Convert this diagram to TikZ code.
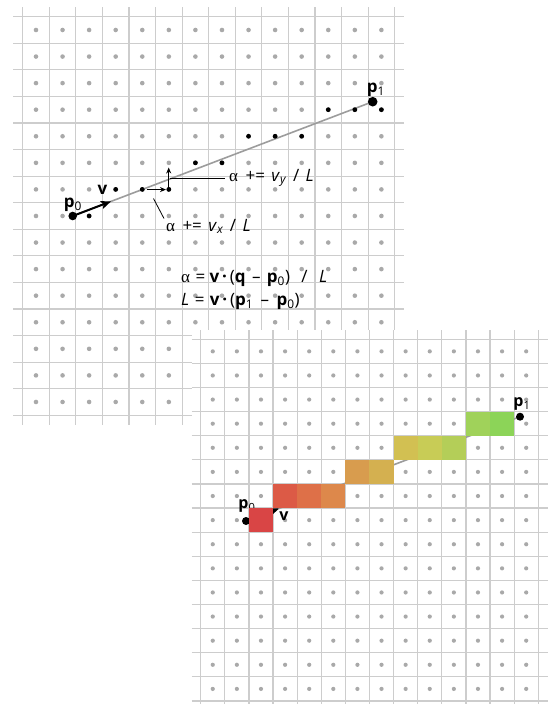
\documentclass[tikz,border=0pt]{standalone}
\usepackage{fontspec}
\setmainfont{Open Sans}
\newfontfamily\greekfont{Liberation Serif}
\usetikzlibrary{arrows.meta}
\definecolor{gridline}{HTML}{CDCDCD}
\definecolor{griddot}{HTML}{A9A9A9}
\definecolor{pathgray}{HTML}{9C9C9C}
\definecolor{cA}{RGB}{217,69,69}
\definecolor{cB}{RGB}{220,90,70}
\definecolor{cC}{RGB}{222,112,72}
\definecolor{cD}{RGB}{221,136,75}
\definecolor{cE}{RGB}{216,156,78}
\definecolor{cF}{RGB}{212,176,80}
\definecolor{cG}{RGB}{210,192,82}
\definecolor{cH}{RGB}{200,204,86}
\definecolor{cI}{RGB}{180,206,88}
\definecolor{cJ}{RGB}{160,210,90}
\definecolor{cK}{RGB}{140,212,88}
\tikzset{
  gridln/.style={draw=gridline, line width=1.2pt},
  gdot/.style={fill=griddot},
  bdot/.style={fill=black},
  lbl/.style={inner sep=0pt, font=\fontsize{15}{17}\selectfont},
  eqn/.style={inner sep=0pt, anchor=west, font=\fontsize{17}{20}\selectfont},
  leader/.style={draw=black, line width=0.8pt},
  smallarrow/.style={draw=black, line width=1pt, -{Stealth[length=6pt,width=5pt]}},
  bigarrow/.style={draw=black, line width=2pt, -{Stealth[length=10pt,width=8pt,inset=2pt]}},
  seg/.style={draw=pathgray, line width=1.6pt}
}
\newcommand{\al}{{\greekfont\char"03B1}}
\newcommand{\gap}[1]{\hspace{#1pt}}
\begin{document}
\begin{tikzpicture}[x=1pt,y=-1pt]
\useasboundingbox (0,0) rectangle (547,704);
% ---------------- top grid ----------------
\def\tx{22.7}\def\ty{16.7}\def\ts{26.57}
\foreach \i in {0,...,14} \draw[gridln] ({\tx+\i*\ts},7) -- ({\tx+\i*\ts},425);
\foreach \j in {0,...,15} \draw[gridln] (13,{\ty+\j*\ts}) -- (404,{\ty+\j*\ts});
\foreach \i in {0,...,13} \foreach \j in {0,...,14}
  \fill[gdot] ({\tx+(\i+0.5)*\ts},{\ty+(\j+0.5)*\ts}) circle (2.3pt);
% path
\coordinate (p0) at (72.7,216);
\coordinate (p1) at (372.7,101.7);
\draw[seg] (p0) -- (p1);
% rasterised dots
\foreach \c/\r in {2/7,3/6,4/6,5/6,6/5,7/5,8/4,9/4,10/4,11/3,12/3,13/3}
  \fill[bdot] ({\tx+(\c+0.5)*\ts},{\ty+(\r+0.5)*\ts}) circle (2.4pt);
\fill[bdot] (p0) circle (4.3pt);
\fill[bdot] (p1) circle (4.8pt);
% v arrow
\coordinate (vtip) at (111,201.4);
\draw[bigarrow] (p0) -- (vtip);
\node[lbl, font=\fontsize{17}{19}\selectfont\bfseries] (vlbl) at (102.5,190) {v};
\node[lbl, font=\fontsize{17}{19}\selectfont] (p0lbl) at (73,205) {\textbf{p}\textsubscript{0}};
\node[lbl, font=\fontsize{17}{19}\selectfont] (p1lbl) at (376,90) {\textbf{p}\textsubscript{1}};
% step arrows
\coordinate (sa) at (146.5,189.6);
\coordinate (sb) at (166,189.6);
\coordinate (sc) at (168.7,189.6);
\coordinate (sd) at (168.7,167.5);
\draw[smallarrow] (sa) -- (sb);
\draw[smallarrow] (sc) -- (sd);
% leaders and labels
\coordinate (ly0) at (170,178.5);
\coordinate (ly1) at (225,178.5);
\draw[leader] (ly0) -- (ly1);
\node[eqn] (lvy) at (229,178) {\al\gap{3} += \gap{2}\textit{v}\textsubscript{\textit{y}} \gap{2}/\gap{2} \textit{L}};
\coordinate (lx0) at (153.5,198.5);
\coordinate (lx1) at (164,218.5);
\draw[leader] (lx0) -- (lx1);
\node[eqn] (lvx) at (166,226.5) {\al\gap{3} += \gap{2}\textit{v}\textsubscript{\textit{x}} \gap{2}/\gap{2} \textit{L}};
% equations
\node[eqn] (eq1) at (181,278.5) {\al\gap{1} = \textbf{v\,·\,}(\textbf{q}\gap{2} – \gap{2}\textbf{p}\textsubscript{0})\gap{7} /\gap{7} \textit{L}};
\node[eqn] (eq2) at (181,301.5) {\textit{L}\gap{1} = \gap{1}\textbf{v\,·\,}(\textbf{p}\textsubscript{1}\gap{3} – \gap{3}\textbf{p}\textsubscript{0})};
% ---------------- bottom panel ----------------
\fill[white] (191.5,330) rectangle (547,704);
\def\bx{200.7}\def\by{339.3}\def\bs{24.11}
\foreach \i in {0,...,14} \draw[gridln] ({\bx+\i*\bs},330) -- ({\bx+\i*\bs},712);
\foreach \j in {0,...,15} \draw[gridln] (191.5,{\by+\j*\bs}) -- (548,{\by+\j*\bs});
\foreach \i in {0,...,13} \foreach \j in {0,...,14}
  \fill[gdot] ({\bx+(\i+0.5)*\bs},{\by+(\j+0.5)*\bs}) circle (2.1pt);
\coordinate (q0) at (246,521);
\coordinate (q1) at (520,416.7);
\coordinate (qv) at (279,508.5);
\draw[seg] (q0) -- (q1);
\draw[bigarrow] (q0) -- (qv);
\fill[bdot] (q0) circle (4pt);
\node[lbl, font=\fontsize{16}{18}\selectfont] (q0lbl) at (247,506) {\textbf{p}\textsubscript{0}};
\node[lbl, font=\fontsize{16}{18}\selectfont\bfseries] (qvlbl) at (284,516) {v};
% coloured cells
\foreach \c/\r/\col in {2/7/cA,3/6/cB,4/6/cC,5/6/cD,6/5/cE,7/5/cF,8/4/cG,9/4/cH,10/4/cI,11/3/cJ,12/3/cK}
  \fill[\col] ({\bx+\c*\bs},{\by+\r*\bs}) rectangle ({\bx+(\c+1)*\bs},{\by+(\r+1)*\bs});
\fill[bdot] (q1) circle (4pt);
\node[lbl, font=\fontsize{16}{18}\selectfont] (q1lbl) at (522,404) {\textbf{p}\textsubscript{1}};
\end{tikzpicture}
\end{document}
